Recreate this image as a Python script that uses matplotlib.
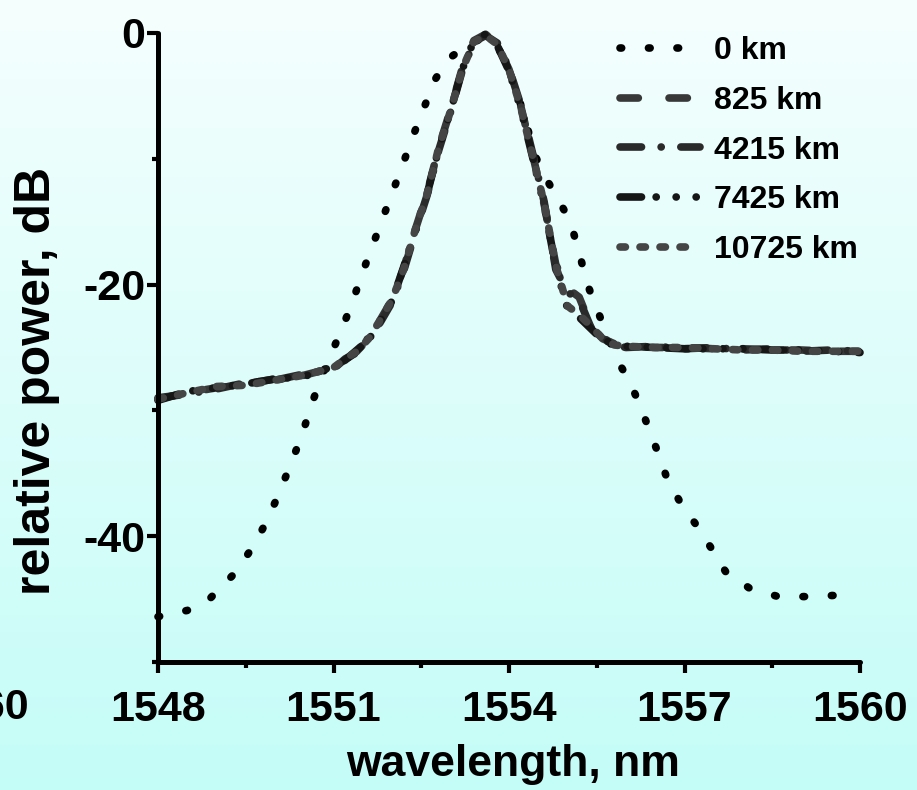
import numpy as np
import matplotlib
matplotlib.use("Agg")
import matplotlib.pyplot as plt
from matplotlib.ticker import MultipleLocator

# ---------------- data ----------------
wl0 = [1548.0, 1548.5, 1548.9, 1549.3, 1549.6, 1549.85, 1550.05, 1550.25, 1550.45,
       1550.65, 1550.85, 1551.1, 1551.3, 1551.5, 1551.7, 1551.9, 1552.15, 1552.35,
       1552.55, 1552.75, 1552.95, 1553.25, 1553.5, 1553.75, 1553.95, 1554.15, 1554.3,
       1554.45, 1554.65, 1554.85, 1555.05, 1555.2, 1555.35, 1555.55, 1555.85, 1556.05,
       1556.25, 1556.4, 1556.55, 1556.7, 1556.95, 1557.2, 1557.45, 1557.7, 1558.1,
       1558.6, 1559.1, 1559.6]
p0km = [-46.4, -45.9, -44.9, -43.0, -41.0, -38.9, -36.8, -34.5, -32.1,
        -29.2, -26.7, -24.0, -21.7, -19.0, -16.5, -14.0, -10.9, -8.3,
        -5.9, -3.6, -2.1, -1.1, -0.5, -0.7, -2.3, -4.9, -7.3,
        -9.8, -11.7, -13.3, -15.0, -17.5, -20.1, -22.5, -26.0, -27.6,
        -29.7, -31.6, -33.4, -35.4, -37.5, -39.1, -40.9, -42.8, -44.1,
        -44.8, -44.8, -44.7]

wl = [1548.0, 1548.5, 1549.0, 1549.5, 1550.0, 1550.5, 1551.0, 1551.2, 1551.4, 1551.6,
      1551.8, 1552.0, 1552.2, 1552.4, 1552.6, 1552.8, 1553.0, 1553.2, 1553.4, 1553.6,
      1553.8, 1554.0, 1554.2, 1554.4, 1554.6, 1554.8, 1555.0, 1555.2, 1555.4, 1555.6,
      1555.8, 1556.0, 1556.5, 1557.0, 1557.5, 1558.0, 1558.5, 1559.0, 1559.5, 1560.0]
p825 = [-29.1, -28.6, -28.2, -27.9, -27.5, -27.2, -26.6, -26.0, -25.3, -24.3,
        -22.8, -21.2, -18.7, -15.6, -12.7, -9.1, -6.1, -2.8, -0.6, -0.1,
        -0.9, -2.9, -5.8, -9.6, -13.6, -18.4, -20.3, -21.0, -23.3, -24.3,
        -24.7, -24.9, -25.0, -25.0, -25.1, -25.1, -25.2, -25.2, -25.3, -25.3]
p4215 = [-29.0, -28.7, -28.3, -27.8, -27.6, -27.1, -26.7, -25.9, -25.4, -24.2,
         -23.0, -21.4, -18.9, -15.8, -12.9, -9.3, -6.3, -3.0, -0.7, -0.2,
         -0.8, -2.8, -5.7, -9.5, -13.4, -18.8, -20.6, -21.2, -23.4, -24.2,
         -24.8, -25.0, -24.9, -25.1, -25.0, -25.2, -25.1, -25.3, -25.2, -25.3]
p7425 = [-29.2, -28.5, -28.2, -27.9, -27.5, -27.3, -26.5, -26.0, -25.2, -24.4,
         -22.9, -21.3, -18.6, -15.7, -12.8, -9.2, -6.2, -2.9, -0.6, -0.1,
         -1.0, -3.0, -6.0, -9.8, -13.7, -18.6, -21.9, -22.6, -23.5, -24.4,
         -24.7, -24.9, -25.0, -25.1, -25.1, -25.1, -25.2, -25.2, -25.3, -25.4]
p10725 = [-29.1, -28.6, -28.1, -28.0, -27.6, -27.2, -26.6, -25.9, -25.3, -24.3,
          -22.8, -21.2, -18.8, -15.6, -12.8, -9.1, -6.2, -2.9, -0.7, -0.2,
          -0.9, -2.9, -5.9, -9.7, -13.5, -18.5, -21.7, -22.4, -23.3, -24.3,
          -24.8, -24.9, -25.0, -25.0, -25.1, -25.2, -25.2, -25.3, -25.3, -25.3]

labels = ["0 km", "825 km", "4215 km", "7425 km", "10725 km"]
xticks = [1548, 1551, 1554, 1557, 1560]
yticks = [0, -20, -40]

# ---------------- styling ----------------
plt.rcParams['lines.scale_dashes'] = False
plt.rcParams['font.family'] = ['Liberation Sans', 'DejaVu Sans']
plt.rcParams['font.weight'] = 'bold'

W, H = 917, 790
fig = plt.figure(figsize=(W / 100, H / 100), dpi=100)

# background gradient
bg = fig.add_axes([0, 0, 1, 1], zorder=0)
top = np.array([0.96, 1.0, 0.995])
bot = np.array([0.77, 0.99, 0.97])
t = np.linspace(0, 1, 256)[:, None, None]
grad = top[None, None, :] * (1 - t) + bot[None, None, :] * t
bg.imshow(grad, aspect='auto', extent=[0, 1, 0, 1], interpolation='bilinear')
bg.axis('off')

ax = fig.add_axes([158 / W, 1 - 662 / H, (860 - 158) / W, (662 - 33) / H], zorder=1)
ax.patch.set_alpha(0)

lw = 5.5
styles = [
    dict(color='#000000', ls=(0, (1.2, 19.3))),
    dict(color='#383838', ls=(0, (13.2, 22.1))),
    dict(color='#2a2a2a', ls=(0, (15.5, 14.1, 0.1, 14.1))),
    dict(color='#161616', ls=(0, (15.5, 10.5, 0.1, 14.3, 0.1, 14.3, 0.1, 14))),
    dict(color='#454545', ls=(0, (3.9, 10.5))),
]
series = [(wl0, p0km), (wl, p825), (wl, p4215), (wl, p7425), (wl, p10725)]
for (x, y), st, lab in zip(series, styles, labels):
    ax.plot(x, y, color=st['color'], linestyle=st['ls'], linewidth=lw,
            dash_capstyle='round', solid_capstyle='round', label=lab, clip_on=False)

ax.set_xlim(1548, 1560)
ax.set_ylim(-50, 0)
for s in ['top', 'right']:
    ax.spines[s].set_visible(False)
for s in ['left', 'bottom']:
    ax.spines[s].set_linewidth(3.6)
    ax.spines[s].set_capstyle('round')

ax.set_xticks(xticks)
ax.set_xticklabels([str(v) for v in xticks])
ax.set_yticks(yticks)
ax.set_yticklabels([str(v) for v in yticks])
ax.xaxis.set_minor_locator(MultipleLocator(1.5))
ax.yaxis.set_minor_locator(MultipleLocator(10))
ax.tick_params(which='major', direction='out', length=8, width=3, labelsize=31, pad=12)
ax.tick_params(axis='y', which='major', pad=1)
ax.tick_params(which='minor', direction='out', length=4, width=3)
for tl in ax.get_xticklabels() + ax.get_yticklabels():
    tl.set_fontweight('bold')

leg = ax.legend(loc='upper left', bbox_to_anchor=(620 / W, 1 - 36 / H),
                bbox_transform=fig.transFigure, frameon=False,
                prop={'weight': 'bold', 'size': 23},
                handlelength=2.5, handletextpad=0.45, labelspacing=0.62,
                borderpad=0, borderaxespad=0)

# axis labels
fig.text(37 / W, 1 - 381 / H, 'relative power, dB', rotation=90, ha='center', va='center',
         fontsize=36, fontweight='bold')
fig.text(513 / W, 1 - 776 / H, 'wavelength, nm', ha='center', va='baseline',
         fontsize=32, fontweight='bold')
# partially visible tick label of a neighbouring panel
fig.text(29 / W, 1 - 708 / H, '1560', ha='right', va='center', fontsize=31, fontweight='bold')

fig.savefig('out.png', dpi=100)
